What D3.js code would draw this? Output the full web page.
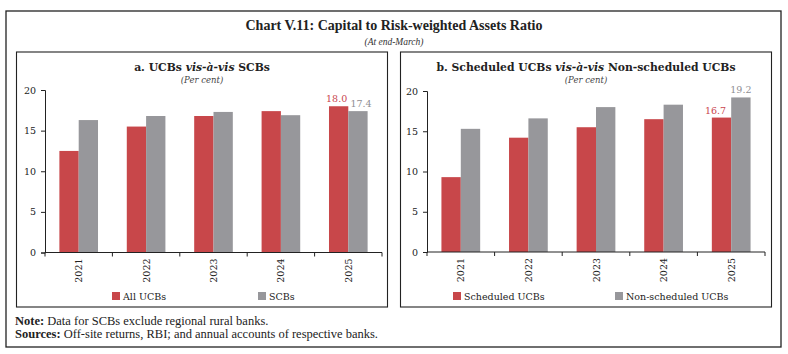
<!DOCTYPE html>
<html><head><meta charset="utf-8">
<script src="https://cdn.jsdelivr.net/npm/d3@7"></script>
<style>
html,body{margin:0;padding:0;background:#fff;}
svg{display:block;}
</style></head>
<body>
<script>
// ---- data ----
const years = ["2021","2022","2023","2024","2025"];
const yTicks = [0,5,10,15,20];
const panelASeries = ["All UCBs","SCBs"];
const allUCBs = [12.5,15.5,16.8,17.4,18.0];
const scbs = [16.3,16.8,17.3,16.9,17.4];
const panelBSeries = ["Scheduled UCBs","Non-scheduled UCBs"];
const scheduledUCBs = [9.3,14.2,15.5,16.5,16.7];
const nonScheduledUCBs = [15.3,16.6,18.0,18.3,19.2];

const W = 788, H = 354;
const RED = "#c8474a", GRAY = "#97979b";
const SERIF = "'DejaVu Serif', serif";
const TSERIF = "'Liberation Serif', 'Times New Roman', serif";

const svg = d3.select("body").append("svg").attr("width", W).attr("height", H);

// outer frame
svg.append("rect").attr("x",6).attr("y",11).attr("width",775).attr("height",336)
  .attr("fill","none").attr("stroke","#222").attr("stroke-width",1.3);

svg.append("text").attr("x",394).attr("y",30).attr("text-anchor","middle")
  .attr("font-family",TSERIF).attr("font-weight","bold").attr("font-size",14)
  .attr("fill","#222").text("Chart V.11: Capital to Risk-weighted Assets Ratio");
svg.append("text").attr("x",394).attr("y",45).attr("text-anchor","middle")
  .attr("font-family",TSERIF).attr("font-style","italic").attr("font-size",9.5)
  .attr("fill","#333").text("(At end-March)");

const note = svg.append("text").attr("x",15).attr("y",325)
  .attr("font-family",TSERIF).attr("font-size",12.5).attr("fill","#222");
note.append("tspan").attr("font-weight","bold").text("Note:");
note.append("tspan").text(" Data for SCBs exclude regional rural banks.");
const src = svg.append("text").attr("x",15).attr("y",338)
  .attr("font-family",TSERIF).attr("font-size",12.5).attr("fill","#222");
src.append("tspan").attr("font-weight","bold").text("Sources:");
src.append("tspan").text(" Off-site returns, RBI; and annual accounts of respective banks.");

function panel(opt){
  const g = svg.append("g");
  g.append("rect").attr("x",opt.px).attr("y",52).attr("width",371).attr("height",255)
    .attr("fill","none").attr("stroke","#222").attr("stroke-width",1.1);
  const cx = opt.px + 185.5;
  const t = g.append("text").attr("x",cx).attr("y",71).attr("text-anchor","middle")
    .attr("font-family",SERIF).attr("font-weight","bold").attr("font-size",10.8).attr("fill","#222");
  opt.title.forEach(p => t.append("tspan").attr("font-style",p[1]?"italic":"normal").text(p[0]));
  g.append("text").attr("x",cx).attr("y",83).attr("text-anchor","middle")
    .attr("font-family",SERIF).attr("font-style","italic").attr("font-size",8.5)
    .attr("fill","#444").text("(Per cent)");

  const y = d3.scaleLinear().domain([0,20]).range([opt.y0, opt.y20]);
  const x = d3.scaleBand().domain(years).range([opt.x0, opt.x1]).paddingInner(0.427).paddingOuter(0.2135);
  const xs = d3.scaleBand().domain(opt.series).range([0, x.bandwidth()]);
  const colors = [RED, GRAY];
  const vals = [opt.v1, opt.v2];

  // bars
  opt.series.forEach((s,si)=>{
    g.selectAll(null).data(years).enter().append("rect")
      .attr("x", d=>x(d)+xs(s)).attr("width", xs.bandwidth())
      .attr("y", (d,i)=>y(vals[si][i])).attr("height",(d,i)=>y(0)-y(vals[si][i]))
      .attr("fill", colors[si]);
  });

  // y axis
  const ya = g.append("g").attr("transform",`translate(${opt.x0},0)`)
    .call(d3.axisLeft(y).tickValues(yTicks).tickSize(4).tickPadding(5).tickFormat(d3.format("d")));
  ya.select(".domain").attr("stroke","#222");
  ya.selectAll(".tick line").attr("stroke","#222");
  ya.selectAll("text").attr("font-family",SERIF).attr("font-size",9.5).attr("fill","#222");

  // x axis baseline with boundary ticks
  const xa = g.append("g").attr("transform",`translate(0,${y(0)})`)
    .call(d3.axisBottom(x).tickSize(0).tickFormat(""));
  xa.select(".domain").attr("stroke","#222").attr("d",`M${opt.x0},0H${opt.x1}`);
  const step = x.step();
  const bounds = d3.range(years.length+1).map(i => opt.x0 + i*step);
  g.selectAll(null).data(bounds).enter().append("line")
    .attr("x1",d=>d).attr("x2",d=>d).attr("y1",y(0)).attr("y2",y(0)+4)
    .attr("stroke","#222");

  // year labels
  g.selectAll(null).data(years).enter().append("text")
    .attr("transform", d=>`translate(${x(d)+x.bandwidth()/2+3.5},${y(0)+6}) rotate(-90)`)
    .attr("text-anchor","end").attr("font-family",SERIF).attr("font-size",9.5)
    .attr("fill","#222").text(d=>d);

  // data labels for last year
  const last = years[years.length-1];
  opt.series.forEach((s,si)=>{
    const v = vals[si][years.length-1];
    g.append("text").attr("x", x(last)+xs(s)+xs.bandwidth()/2 + opt.labelDx[si])
      .attr("y", y(v)-4).attr("text-anchor","middle")
      .attr("font-family",SERIF).attr("font-size",9.5)
      .attr("fill", si===0 ? "#c9454e" : "#8e8e93").text(v.toFixed(1));
  });

  // legend
  opt.legend.forEach((lx,si)=>{
    g.append("rect").attr("x",lx).attr("y",292).attr("width",8).attr("height",8).attr("fill",colors[si]);
    g.append("text").attr("x",lx+11).attr("y",299.5).attr("font-family",SERIF).attr("font-size",9.5)
      .attr("fill","#222").text(opt.series[si]);
  });
}

panel({px:16.5, x0:45, x1:382, y0:252.5, y20:90,
  title:[["a. UCBs ",false],["vis-à-vis",true],[" SCBs",false]],
  series:panelASeries, v1:allUCBs, v2:scbs, legend:[112,258], labelDx:[-2,3]});
panel({px:400.5, x0:427, x1:765, y0:252, y20:91,
  title:[["b. Scheduled UCBs ",false],["vis-à-vis",true],[" Non-scheduled UCBs",false]],
  series:panelBSeries, v1:scheduledUCBs, v2:nonScheduledUCBs, legend:[453,615], labelDx:[-6,0]});
</script>
</body></html>
